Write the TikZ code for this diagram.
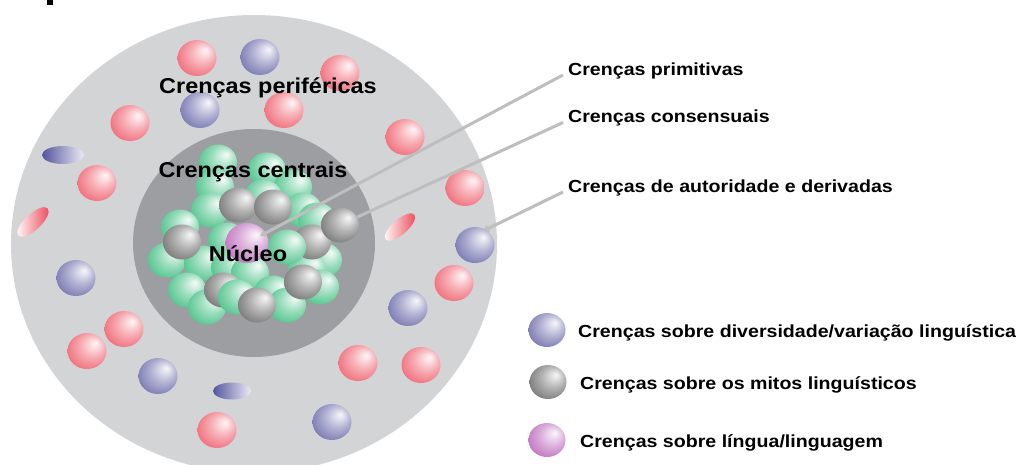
\documentclass[tikz,border=0pt]{standalone}
\usepackage{fontspec}
\usepackage{graphicx}
\setmainfont{Liberation Sans}
\usetikzlibrary{shapes.geometric,arrows.meta}

% palette
\definecolor{outerdisc}{HTML}{D3D4D6}
\definecolor{innerdisc}{HTML}{9D9EA1}
\definecolor{connc}{HTML}{BEBEBE}
\definecolor{bred}{HTML}{EC4656}
\definecolor{bblue}{HTML}{55559E}
\definecolor{bgreen}{HTML}{22B46E}
\definecolor{bgrey}{HTML}{555555}
\definecolor{bpink}{HTML}{B050B0}

% spheres lit from the upper right
\newcommand\declaresphere[2]{%
  \pgfdeclareradialshading{#1}{\pgfpoint{11bp}{11bp}}{%
    color(0bp)=(#2!5!white); color(3bp)=(#2!12!white);
    color(16bp)=(#2!45!white); color(30bp)=(#2!75!white);
    color(46bp)=(#2)}}
\declaresphere{redsphere}{bred}
\declaresphere{bluesphere}{bblue}
\declaresphere{greensphere}{bgreen}
\declaresphere{greysphere}{bgrey}
\declaresphere{pinksphere}{bpink}

\newcommand\widerA[1]{\scalebox{1.09}[1]{#1}}
\newcommand\widerB[1]{\scalebox{1.12}[1]{#1}}

\tikzset{
  sph/.style={ellipse, inner sep=0pt, shade, draw=none},
  bigsph/.style={sph, minimum width=39pt, minimum height=36pt},
  smallsph/.style={sph, minimum width=38pt, minimum height=35pt},
  rball/.style={bigsph, shading=redsphere},
  bball/.style={bigsph, shading=bluesphere},
  gball/.style={smallsph, shading=greensphere},
  kball/.style={smallsph, shading=greysphere},
  pball/.style={sph, minimum width=43pt, minimum height=40pt, shading=pinksphere},
  legsph/.style={sph, minimum width=37pt, minimum height=34pt},
  flatdisc/.style={ellipse, inner sep=0pt, draw=none},
  ringlabel/.style={anchor=base, inner sep=0pt, font=\bfseries\fontsize{21.5}{24}\selectfont},
  sidelabel/.style={anchor=base west, inner sep=5pt, font=\bfseries\fontsize{17.5}{20}\selectfont},
  conn/.style={draw=connc, line width=3pt, -{Triangle[length=6pt,width=7pt]}},
}

\begin{document}
\begin{tikzpicture}[x=1pt,y=-1pt]
\useasboundingbox (0,0) rectangle (1019,464);
\clip (0,0) rectangle (1019,464);
\fill[white] (0,0) rectangle (1019,464);
\fill[black] (47,0) rectangle (52.5,4.5);

% the two discs
\fill[outerdisc] (254,244) ellipse (243 and 229);
\fill[innerdisc] (254,243) ellipse (121 and 114);

% peripheral beliefs
\node[rball] (r1) at (197,58) {};
\node[rball] (r2) at (340,73) {};
\node[rball] (r3) at (284,110) {};
\node[rball] (r4) at (130,123) {};
\node[rball] (r5) at (405,137) {};
\node[rball] (r6) at (97,183) {};
\node[rball] (r7) at (465,188) {};
\node[rball] (r8) at (454,283) {};
\node[rball] (r9) at (124,329) {};
\node[rball] (r10) at (87,351) {};
\node[rball] (r11) at (358,363) {};
\node[rball] (r12) at (421,365) {};
\node[rball] (r13) at (217,430) {};
\node[bball] (b1) at (260,57) {};
\node[bball] (b2) at (200,110) {};
\node[bball] (b3) at (76,278) {};
\node[bball] (b4) at (475,245) {};
\node[bball] (b5) at (408,308) {};
\node[bball] (b6) at (158,376) {};
\node[bball] (b7) at (332,422) {};

% flattened discs
\node[flatdisc, minimum width=42pt, minimum height=18pt, left color=bblue, right color=bblue!12!white] (e1) at (63,155) {};
\node[flatdisc, minimum width=40pt, minimum height=16pt, rotate=43, left color=white, right color=bred] (e2) at (33,222) {};
\node[flatdisc, minimum width=38pt, minimum height=15pt, rotate=41, left color=white, right color=bred] (e3) at (400,227) {};
\node[flatdisc, minimum width=38pt, minimum height=17pt, left color=bblue, right color=bblue!12!white] (e4) at (232,391) {};

% central beliefs: back layer
\node[gball] (g1) at (218,162) {};
\node[gball] (g2) at (267,170) {};
\node[gball] (g3) at (293,187) {};
\node[gball] (g4) at (215,187) {};
\node[gball] (g5) at (263,197) {};
\node[gball] (g6) at (210,210) {};
\node[gball] (g7) at (303,210) {};
\node[gball] (g8) at (317,220) {};
\node[gball] (g9) at (180,227) {};
\node[gball] (g10) at (167,260) {};
\node[gball] (g11) at (203,263) {};
\node[gball] (g12) at (227,240) {};
\node[gball] (g13) at (323,260) {};
\node[gball] (g14) at (307,270) {};
\node[gball] (g15) at (320,287) {};
\node[gball] (g16) at (187,290) {};
\node[gball] (g17) at (207,307) {};
\node[gball] (g18) at (230,267) {};
\node[gball] (g19) at (250,273) {};
\node[gball] (g20) at (273,293) {};
\node[gball] (g21) at (287,305) {};

% grey spheres among them
\node[kball] (k1) at (238,205) {};
\node[kball] (k2) at (273,207) {};
\node[kball] (k3) at (182,242) {};
\node[kball] (k5) at (312,242) {};
\node[kball] (k6) at (223,290) {};

% front layer
\node[gball] (g22) at (287,247) {};
\node[gball] (g23) at (237,297) {};
\node[kball] (k7) at (303,282) {};
\node[kball] (k8) at (257,305) {};
\node[pball] (nuc) at (247,243) {};
\node[kball] (k4) at (340,225) {};

% ring labels
\node[ringlabel] (lper) at (268,93) {\widerA{Crenças periféricas}};
\node[ringlabel] (lcen) at (253,177.5) {\widerA{Crenças centrais}};
\node[ringlabel] (lnuc) at (248,261.5) {\widerA{Núcleo}};

% side labels
\node[sidelabel] (prim) at (563,75) {\widerB{Crenças primitivas}};
\node[sidelabel] (cons) at (563,122.5) {\widerB{Crenças consensuais}};
\node[sidelabel] (auto) at (563,192) {\widerB{Crenças de autoridade e derivadas}};

\coordinate (nuctip) at (260,236);
\coordinate (bluetip) at (483,231);
\draw[conn] (prim.base west) -- (nuctip);
\draw[conn, -] (cons.base west) -- (k4);
\draw[conn] (auto.base west) -- (bluetip);

% legend
\node[legsph, shading=bluesphere] (leg1) at (547,330) {};
\node[legsph, shading=greysphere] (leg2) at (548,382) {};
\node[legsph, shading=pinksphere] (leg3) at (547,440) {};
\node[sidelabel] (legt1) at (573,337.5) {\widerB{Crenças sobre diversidade/variação linguística}};
\node[sidelabel] (legt2) at (575,389.5) {\widerB{Crenças sobre os mitos linguísticos}};
\node[sidelabel] (legt3) at (575,447.5) {\widerB{Crenças sobre língua/linguagem}};
\end{tikzpicture}
\end{document}
